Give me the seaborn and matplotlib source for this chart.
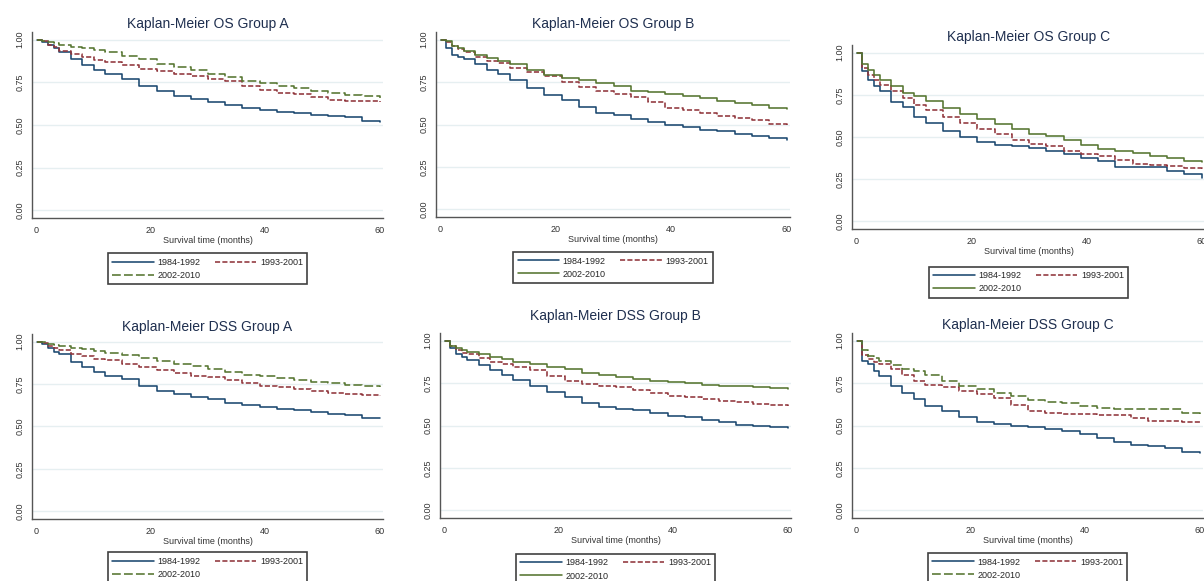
import pandas as pd
import seaborn as sns
import matplotlib.pyplot as plt

# Kaplan-Meier survival curves (months 0-60)
months = [0, 1, 2, 3, 4, 6, 8, 10, 12, 15, 18, 21, 24, 27, 30, 33, 36, 39, 42, 45, 48, 51, 54, 57, 60]
periods = ["1984-1992", "1993-2001", "2002-2010"]

os_a_1984 = [1, 0.985, 0.97, 0.95, 0.93, 0.885, 0.85, 0.82, 0.80, 0.77, 0.73, 0.70, 0.67, 0.655, 0.635, 0.615, 0.60, 0.588, 0.578, 0.57, 0.56, 0.55, 0.545, 0.525, 0.52]
os_a_1993 = [1, 0.99, 0.97, 0.955, 0.935, 0.915, 0.90, 0.88, 0.87, 0.85, 0.83, 0.815, 0.80, 0.785, 0.77, 0.755, 0.73, 0.705, 0.69, 0.68, 0.665, 0.645, 0.64, 0.638, 0.635]
os_a_2002 = [1, 0.995, 0.985, 0.98, 0.97, 0.96, 0.95, 0.94, 0.925, 0.905, 0.885, 0.86, 0.84, 0.82, 0.80, 0.78, 0.76, 0.745, 0.73, 0.715, 0.70, 0.685, 0.675, 0.668, 0.66]

os_b_1984 = [1, 0.95, 0.91, 0.90, 0.885, 0.855, 0.82, 0.80, 0.765, 0.715, 0.675, 0.645, 0.605, 0.57, 0.555, 0.535, 0.515, 0.495, 0.485, 0.47, 0.46, 0.445, 0.435, 0.42, 0.41]
os_b_1993 = [1, 0.985, 0.96, 0.945, 0.93, 0.90, 0.875, 0.86, 0.835, 0.81, 0.785, 0.75, 0.72, 0.70, 0.68, 0.66, 0.635, 0.60, 0.585, 0.57, 0.55, 0.54, 0.525, 0.505, 0.50]
os_b_2002 = [1, 0.99, 0.965, 0.95, 0.935, 0.91, 0.89, 0.875, 0.855, 0.82, 0.79, 0.775, 0.76, 0.745, 0.725, 0.70, 0.69, 0.68, 0.67, 0.655, 0.64, 0.625, 0.615, 0.60, 0.59]

os_c_1984 = [1, 0.89, 0.84, 0.80, 0.77, 0.71, 0.68, 0.62, 0.58, 0.535, 0.50, 0.47, 0.455, 0.445, 0.435, 0.42, 0.40, 0.375, 0.355, 0.325, 0.32, 0.32, 0.30, 0.28, 0.26]
os_c_1993 = [1, 0.91, 0.87, 0.835, 0.81, 0.77, 0.73, 0.69, 0.66, 0.62, 0.58, 0.545, 0.515, 0.48, 0.46, 0.445, 0.42, 0.40, 0.385, 0.365, 0.34, 0.335, 0.33, 0.315, 0.31]
os_c_2002 = [1, 0.93, 0.895, 0.87, 0.84, 0.80, 0.76, 0.745, 0.715, 0.67, 0.635, 0.605, 0.575, 0.55, 0.52, 0.505, 0.48, 0.45, 0.43, 0.415, 0.405, 0.39, 0.375, 0.36, 0.35]

dss_a_1984 = [1, 0.985, 0.96, 0.94, 0.925, 0.88, 0.85, 0.82, 0.80, 0.78, 0.74, 0.71, 0.69, 0.675, 0.66, 0.64, 0.625, 0.615, 0.605, 0.595, 0.585, 0.575, 0.565, 0.55, 0.55]
dss_a_1993 = [1, 0.99, 0.975, 0.965, 0.95, 0.93, 0.915, 0.90, 0.89, 0.87, 0.85, 0.83, 0.815, 0.80, 0.79, 0.775, 0.755, 0.74, 0.73, 0.72, 0.71, 0.695, 0.69, 0.685, 0.68]
dss_a_2002 = [1, 0.995, 0.985, 0.98, 0.975, 0.965, 0.955, 0.945, 0.935, 0.92, 0.905, 0.885, 0.87, 0.855, 0.84, 0.82, 0.805, 0.795, 0.785, 0.775, 0.765, 0.755, 0.745, 0.74, 0.73]

dss_b_1984 = [1, 0.955, 0.92, 0.905, 0.885, 0.855, 0.825, 0.795, 0.77, 0.735, 0.70, 0.67, 0.635, 0.61, 0.60, 0.59, 0.575, 0.555, 0.55, 0.535, 0.52, 0.505, 0.495, 0.49, 0.485]
dss_b_1993 = [1, 0.97, 0.945, 0.93, 0.92, 0.90, 0.875, 0.86, 0.845, 0.825, 0.79, 0.76, 0.745, 0.735, 0.725, 0.71, 0.69, 0.675, 0.665, 0.655, 0.645, 0.64, 0.625, 0.618, 0.615]
dss_b_2002 = [1, 0.97, 0.955, 0.945, 0.935, 0.92, 0.905, 0.89, 0.875, 0.86, 0.845, 0.83, 0.81, 0.795, 0.785, 0.775, 0.765, 0.755, 0.748, 0.74, 0.735, 0.73, 0.725, 0.72, 0.715]

dss_c_1984 = [1, 0.88, 0.86, 0.82, 0.79, 0.73, 0.69, 0.655, 0.615, 0.585, 0.55, 0.52, 0.51, 0.50, 0.49, 0.48, 0.47, 0.45, 0.425, 0.40, 0.385, 0.38, 0.365, 0.345, 0.34]
dss_c_1993 = [1, 0.915, 0.89, 0.875, 0.86, 0.83, 0.80, 0.765, 0.74, 0.725, 0.705, 0.685, 0.66, 0.62, 0.585, 0.575, 0.57, 0.565, 0.56, 0.56, 0.545, 0.525, 0.525, 0.52, 0.515]
dss_c_2002 = [1, 0.945, 0.91, 0.895, 0.88, 0.855, 0.835, 0.82, 0.80, 0.765, 0.735, 0.715, 0.69, 0.675, 0.65, 0.64, 0.63, 0.615, 0.605, 0.60, 0.60, 0.595, 0.595, 0.575, 0.57]

titles = ["Kaplan-Meier OS Group A", "Kaplan-Meier OS Group B", "Kaplan-Meier OS Group C",
          "Kaplan-Meier DSS Group A", "Kaplan-Meier DSS Group B", "Kaplan-Meier DSS Group C"]
curves = [(os_a_1984, os_a_1993, os_a_2002), (os_b_1984, os_b_1993, os_b_2002), (os_c_1984, os_c_1993, os_c_2002),
          (dss_a_1984, dss_a_1993, dss_a_2002), (dss_b_1984, dss_b_1993, dss_b_2002), (dss_c_1984, dss_c_1993, dss_c_2002)]

# the source is a pasted collage, so panels sit at slightly different spots
# (left, top, right, bottom) in pixels, title pad, legend offset
W, H = 1204, 581
boxes = [(32, 32, 383, 218, 3.0, -0.165), (436, 32, 790, 217, 3.0, -0.165), (852, 45, 1205, 229, 3.0, -0.18),
         (32, 334, 383, 519, 2.5, -0.155), (440, 333, 791, 518, 9.5, -0.17), (852, 333, 1203, 518, 3.0, -0.165)]
# green is solid in some panels, long-dashed in others
green_dashed = [True, False, False, True, False, True]

colors = {"1984-1992": "#1a476f", "1993-2001": "#90353b", "2002-2010": "#55752f"}

sns.set_style("white")
plt.rcParams["font.family"] = ["Liberation Sans", "DejaVu Sans"]

fig = plt.figure(figsize=(W / 100, H / 100), dpi=100)

for i in range(6):
    l, t, r, b, tpad, leg_y = boxes[i]
    ax = fig.add_axes([l / W, 1 - b / H, (r - l) / W, (b - t) / H])

    rows = []
    for p, vals in zip(periods, curves[i]):
        for m, v in zip(months, vals):
            rows.append({"time": m, "surv": v, "period": p})
    df = pd.DataFrame(rows)

    dashes = {"1984-1992": "", "1993-2001": (3.2, 1.4),
              "2002-2010": (5.5, 2.0) if green_dashed[i] else ""}
    sns.lineplot(data=df, x="time", y="surv", hue="period", style="period",
                 palette=colors, dashes=dashes, drawstyle="steps-post",
                 linewidth=1.15, errorbar=None, legend=False, ax=ax)

    ax.set_xlim(-0.8, 60.6)
    ax.set_ylim(-0.045, 1.045)
    ax.set_xticks([0, 20, 40, 60])
    ax.set_yticks([0, 0.25, 0.5, 0.75, 1.0])
    ax.set_yticklabels(["0.00", "0.25", "0.50", "0.75", "1.00"], rotation=90, va="center")
    ax.tick_params(axis="both", direction="out", length=3.5, width=0.8, color="#444444",
                   labelsize=6.5, labelcolor="#333333", pad=2)
    ax.yaxis.grid(True, color="#e6eff1", linewidth=1.0)
    ax.set_axisbelow(True)
    for s in ["top", "right"]:
        ax.spines[s].set_visible(False)
    for s in ["left", "bottom"]:
        ax.spines[s].set_color("#555555")
        ax.spines[s].set_linewidth(1.0)

    ax.set_title(titles[i], fontsize=10, color="#1f2f4f", pad=tpad)
    ax.set_xlabel("Survival time (months)", fontsize=6.5, color="#333333", labelpad=1)
    ax.set_ylabel("")

    lines = ax.get_lines()[:3]
    leg = ax.legend([lines[0], lines[2], lines[1]], [periods[0], periods[2], periods[1]],
                    ncol=2, loc="upper center", bbox_to_anchor=(0.5, leg_y),
                    fontsize=6.5, handlelength=4.6, columnspacing=1.6, labelspacing=0.45,
                    handletextpad=0.4, borderpad=0.5, fancybox=False, frameon=True)
    leg.get_frame().set_edgecolor("#111111")
    leg.get_frame().set_linewidth(1.2)

fig.savefig("out.png", dpi=100)
